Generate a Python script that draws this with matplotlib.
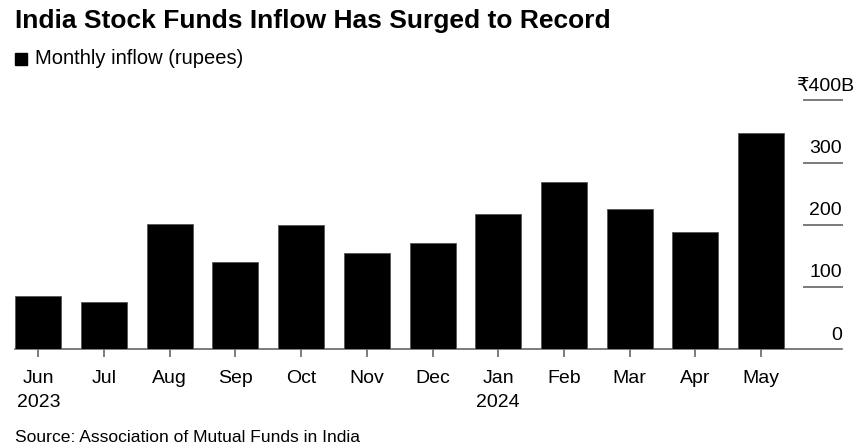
import matplotlib
matplotlib.use("Agg")
import matplotlib.pyplot as plt

# Monthly net inflow into Indian equity mutual funds, billion rupees
MONTHS = ["Jun", "Jul", "Aug", "Sep", "Oct", "Nov", "Dec", "Jan", "Feb", "Mar", "Apr", "May"]
YEARS = {"Jun": "2023", "Jan": "2024"}
INFLOW = [86, 76, 202, 141, 200, 155, 170, 218, 269, 226, 189, 347]
Y_TICKS = [0, 100, 200, 300, 400]
Y_LABELS = ["0", "100", "200", "300", "₹400B"]

plt.rcParams["font.family"] = ["Liberation Sans", "DejaVu Sans"]

fig = plt.figure(figsize=(8.61, 4.47), dpi=100)
ax = fig.add_axes([0.0174, 0.2186, 0.9605, 0.557])

x = list(range(len(MONTHS)))
ax.bar(x, INFLOW, width=0.70, color="black", edgecolor="#555555", linewidth=0.6, zorder=3)

ax.set_xlim(-0.355, 12.23)
ax.set_ylim(0, 400)

for s in ("top", "right", "left"):
    ax.spines[s].set_visible(False)
ax.spines["bottom"].set_color("#666666")
ax.spines["bottom"].set_linewidth(1.2)

# right-side short gridlines with labels sitting above them
ax.set_yticks([])
ytr = ax.get_yaxis_transform()
for v, lab in zip(Y_TICKS, Y_LABELS):
    if v > 0:
        ax.axhline(v, xmin=0.954, xmax=1.0, color="#7a7a7a", lw=1.4, clip_on=False)
    # unit suffix "B" hangs past the right edge, as in the original
    dx = 9.5 if lab.endswith("B") else 0
    ax.annotate(lab, xy=(1.0, v), xycoords=ytr, xytext=(dx, 7), textcoords="offset points",
                ha="right", va="baseline", fontsize=14, color="black")

ax.set_xticks(x)
ax.set_xticklabels([m + ("\n" + YEARS[m] if m in YEARS else "") for m in MONTHS],
                   fontsize=14, color="black", linespacing=1.55, va="top")
for lbl in ax.get_xticklabels():
    lbl.set_multialignment("center")
ax.tick_params(axis="x", length=6, width=1.2, color="#666666", pad=9)

fig.text(0.0174, 0.953, "India Stock Funds Inflow Has Surged to Record",
         fontsize=19, fontweight="bold", color="black", va="center")
fig.patches.append(plt.Rectangle((15 / 861, 1 - 65 / 447), 12 / 861, 12 / 447,
                                 transform=fig.transFigure, color="black"))
fig.text(35 / 861, 1 - 59 / 447, "Monthly inflow (rupees)", fontsize=14.5,
         color="black", va="center")
fig.text(15 / 861, 1 - 437 / 447, "Source: Association of Mutual Funds in India",
         fontsize=12.6, color="black", va="center")

fig.savefig("out.png", dpi=100)
